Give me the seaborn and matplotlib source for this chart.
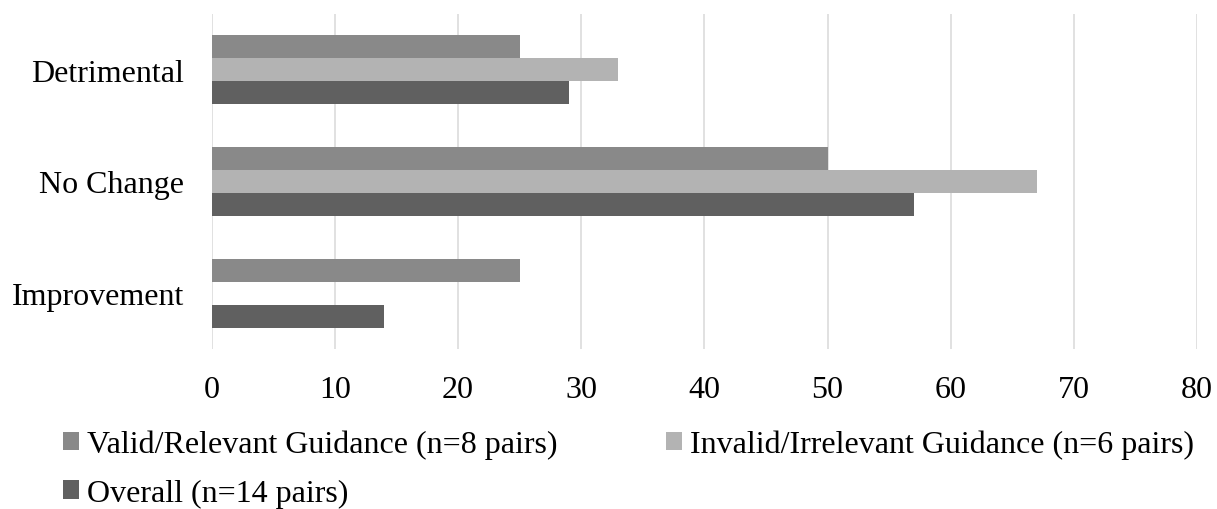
import matplotlib
matplotlib.use("Agg")
import matplotlib.pyplot as plt
from matplotlib.patches import Patch
import seaborn as sns
import pandas as pd

categories = ["Detrimental", "No Change", "Improvement"]
series_names = ["Valid/Relevant Guidance (n=8 pairs)",
                "Invalid/Irrelevant Guidance (n=6 pairs)",
                "Overall (n=14 pairs)"]
valid = [25, 50, 25]
invalid = [33, 67, 0]
overall = [29, 57, 14]
colors = ["#898989", "#b3b3b3", "#606060"]
xticks = [0, 10, 20, 30, 40, 50, 60, 70, 80]

rows = []
for name, vals in zip(series_names, [valid, invalid, overall]):
    for c, v in zip(categories, vals):
        rows.append({"category": c, "series": name, "value": v})
df = pd.DataFrame(rows)

sns.set_theme(style="white")
plt.rcParams['font.family'] = ['Liberation Serif', 'DejaVu Serif']
plt.rcParams['text.color'] = 'black'
plt.rcParams['xtick.color'] = 'black'
plt.rcParams['ytick.color'] = 'black'

W, H = 1217, 510
fig = plt.figure(figsize=(W / 100, H / 100), dpi=100)
ax = fig.add_axes([211.7 / W, 1 - 350 / H, (1197 - 211.7) / W, 335 / H])

sns.barplot(data=df, y="category", x="value", hue="series", order=categories,
            hue_order=series_names, palette=colors, width=0.62, gap=0,
            orient="h", ax=ax, legend=False, saturation=1, linewidth=0,
            errorbar=None)

ax.set_xlim(0, 80)
ax.set_xticks(xticks)
ax.set_ylim(2.5, -0.5)
ax.xaxis.grid(True, color="#d9d9d9", lw=1.1)
ax.yaxis.grid(False)
ax.set_axisbelow(True)
for s in ax.spines.values():
    s.set_visible(False)
FS = 23
ax.tick_params(axis="x", length=0, labelsize=FS, pad=19, labelcolor="black")
ax.tick_params(axis="y", length=0, labelsize=FS, pad=20, labelcolor="black")
ax.set_xlabel("")
ax.set_ylabel("")

handles = [Patch(facecolor=c, edgecolor="none") for c in colors]
fs_px = FS * 100 / 72
renderer = fig.canvas.get_renderer()
t = fig.text(0, 0, series_names[0], fontsize=FS)
w1 = t.get_window_extent(renderer).width
t.remove()
colspace = (666 - 87 - w1) / fs_px

# matplotlib fills legend columns first; reorder so entries read row by row
order = [0, 2, 1]
leg = fig.legend([handles[i] for i in order], [series_names[i] for i in order],
                 loc="upper left",
                 bbox_to_anchor=(63 / W, 1 - 431 / H), ncol=2, frameon=False,
                 fontsize=FS, handlelength=0.5, handleheight=0.5,
                 handletextpad=8 / fs_px, columnspacing=colspace,
                 borderpad=0, borderaxespad=0, labelspacing=0.6)
for txt in leg.get_texts():
    txt.set_color("black")

fig.savefig("out.png", dpi=100)
